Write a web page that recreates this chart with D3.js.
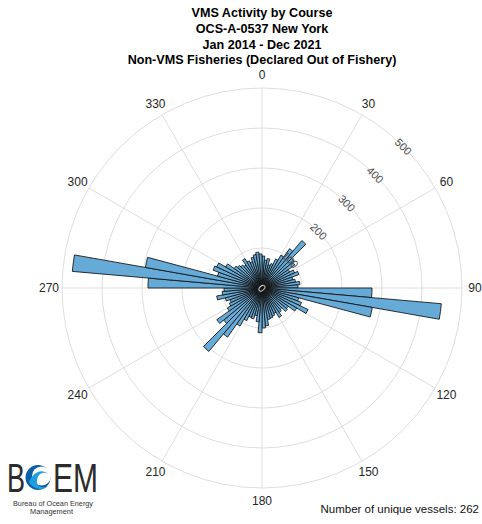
<!DOCTYPE html>
<html>
<head>
<meta charset="utf-8">
<script src="https://cdn.jsdelivr.net/npm/d3@7"></script>
<style>
  body { margin: 0; background: #fff; }
  text { font-family: "Liberation Sans", Arial, sans-serif; }
</style>
</head>
<body>
<div id="chart_area"></div>
<script>
// title lines
var titleLines = ["VMS Activity by Course", "OCS-A-0537 New York", "Jan 2014 - Dec 2021", "Non-VMS Fisheries (Declared Out of Fishery)"];

// 5 degree bins, compass course (0 = north, clockwise)
var binStart = d3.range(0, 360, 5);
var counts = [
    80, 70, 75, 60, 65, 80, 95, 120, 155, 105, 100, 80,      // 0 - 55
    90, 98, 80, 85, 95, 90, 275, 450, 280, 95, 105, 127,     // 60 - 115
    100, 80, 83, 70, 75, 85, 70, 75, 78, 80, 95, 100,        // 120 - 175
    112, 85, 70, 80, 78, 90, 110, 150, 207, 125, 138, 100,   // 180 - 235
    90, 85, 95, 115, 100, 95, 285, 476, 296, 115, 130, 125,  // 240 - 295
    105, 85, 80, 75, 70, 85, 75, 70, 80, 85, 90, 85          // 300 - 355
];
var thetaTicks = [0, 30, 60, 90, 120, 150, 180, 210, 240, 270, 300, 330];
var rTicks = [100, 200, 300, 400, 500];
var vesselCount = 262;

var width = 482, height = 524;
var cx = 262, cy = 288;

var svg = d3.select("#chart_area")
    .append("svg")
    .attr("width", width)
    .attr("height", height);

svg.append("rect").attr("width", width).attr("height", height).attr("fill", "#fff");

var r = d3.scaleLinear().domain([0, 500]).range([0, 200]);
var rad = function (deg) { return deg * Math.PI / 180; };

var g = svg.append("g").attr("transform", "translate(" + cx + "," + cy + ")");

// grid
var gridColor = "#dedede";
g.selectAll(".ring")
    .data(rTicks)
    .enter().append("circle")
    .attr("r", function (d) { return r(d); })
    .attr("fill", "none")
    .attr("stroke", gridColor)
    .attr("stroke-width", 1);

g.selectAll(".spoke")
    .data(thetaTicks)
    .enter().append("line")
    .attr("x1", 0).attr("y1", 0)
    .attr("x2", function (d) { return r(500) * Math.sin(rad(d)); })
    .attr("y2", function (d) { return -r(500) * Math.cos(rad(d)); })
    .attr("stroke", gridColor)
    .attr("stroke-width", 1);

// bars
var arc = d3.arc()
    .innerRadius(0)
    .outerRadius(function (d) { return r(d.count); })
    .startAngle(function (d) { return rad(d.start); })
    .endAngle(function (d) { return rad(d.start + 5); });

var bins = binStart.map(function (s, i) { return { start: s, count: counts[i] }; });

g.selectAll(".bar")
    .data(bins)
    .enter().append("path")
    .attr("d", arc)
    .attr("fill", "#66aad7")
    .attr("stroke", "#111")
    .attr("stroke-width", 0.85)
    .attr("stroke-linejoin", "round");

// theta labels
g.selectAll(".tlabel")
    .data(thetaTicks)
    .enter().append("text")
    .attr("x", function (d) { return 213 * Math.sin(rad(d)); })
    .attr("y", function (d) { return -213 * Math.cos(rad(d)); })
    .attr("text-anchor", "middle")
    .attr("dominant-baseline", "central")
    .attr("font-size", 12)
    .attr("fill", "#262626")
    .text(function (d) { return d; });

// r labels along 45 degrees
var rAng = 45;
g.selectAll(".rlabel")
    .data([0].concat(rTicks))
    .enter().append("text")
    .attr("transform", function (d) {
        var x = r(d) * Math.sin(rad(rAng)), y = -r(d) * Math.cos(rad(rAng));
        return "translate(" + x + "," + y + ") rotate(45)";
    })
    .attr("text-anchor", "middle")
    .attr("dominant-baseline", "central")
    .attr("font-size", 11)
    .attr("fill", function (d) { return d === 0 ? "#d8d8d8" : "#4a4a4a"; })
    .text(function (d) { return d; });

// title
svg.selectAll(".title")
    .data(titleLines)
    .enter().append("text")
    .attr("x", 262)
    .attr("y", function (d, i) { return 17 + i * 15.8; })
    .attr("text-anchor", "middle")
    .attr("font-size", 12.6)
    .attr("font-weight", "bold")
    .attr("fill", "#000")
    .text(function (d) { return d; });

// footer
svg.append("text")
    .attr("x", 479)
    .attr("y", 513)
    .attr("text-anchor", "end")
    .attr("font-size", 11.5)
    .attr("fill", "#111")
    .text("Number of unique vessels: " + vesselCount);

// BOEM logo
var logo = svg.append("g");
logo.append("text")
    .attr("x", 7).attr("y", 492)
    .attr("font-size", 40)
    .attr("font-family", "Lato, 'DejaVu Sans', sans-serif")
    .attr("font-weight", 300)
    .attr("fill", "#2b2b2b")
    .attr("textLength", 18).attr("lengthAdjust", "spacingAndGlyphs")
    .text("B");
logo.append("text")
    .attr("x", 53).attr("y", 492)
    .attr("font-size", 40)
    .attr("font-family", "Lato, 'DejaVu Sans', sans-serif")
    .attr("font-weight", 300)
    .attr("fill", "#2b2b2b")
    .attr("textLength", 45).attr("lengthAdjust", "spacingAndGlyphs")
    .text("EM");
logo.append("circle")
    .attr("cx", 38).attr("cy", 477.5).attr("r", 12.5)
    .attr("fill", "#0b5fa8");
logo.append("circle")
    .attr("cx", 41.5).attr("cy", 476).attr("r", 9.5)
    .attr("fill", "#fff");
logo.append("path")
    .attr("d", "M29,482 C33,472 42,468 48,474 C44,471 38,473 37,480 C36,486 42,489 48,486 C44,491 33,490 29,482 Z")
    .attr("fill", "#1fa0de");
logo.append("text")
    .attr("x", 13).attr("y", 506)
    .attr("font-size", 7)
    .attr("fill", "#333")
    .attr("textLength", 80).attr("lengthAdjust", "spacingAndGlyphs")
    .text("Bureau of Ocean Energy");
logo.append("text")
    .attr("x", 30).attr("y", 514)
    .attr("font-size", 7)
    .attr("fill", "#333")
    .attr("textLength", 43).attr("lengthAdjust", "spacingAndGlyphs")
    .text("Management");
</script>
</body>
</html>
